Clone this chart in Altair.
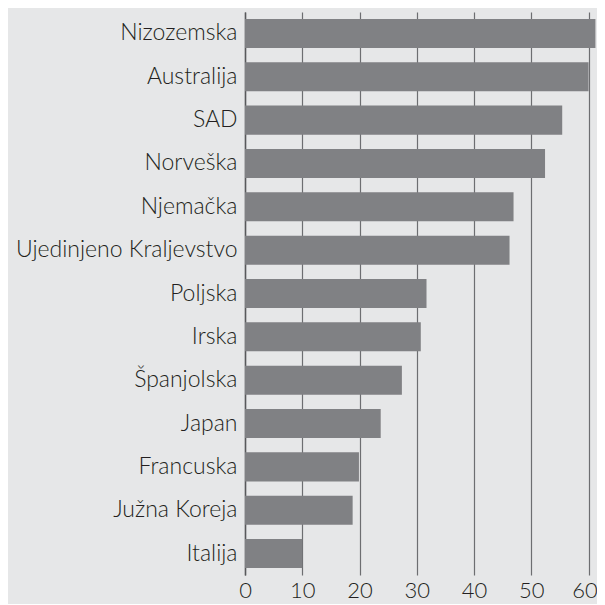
import altair as alt
import pandas as pd

countries = ["Nizozemska", "Australija", "SAD", "Norveška", "Njemačka",
             "Ujedinjeno Kraljevstvo", "Poljska", "Irska", "Španjolska",
             "Japan", "Francuska", "Južna Koreja", "Italija"]
values = [61.2, 60.0, 55.4, 52.4, 46.9, 46.2, 31.7, 30.7, 27.4, 23.7, 19.9, 18.8, 10.0]
ticks = [0, 10, 20, 30, 40, 50, 60]

df = pd.DataFrame({"country": countries, "value": values})

FONT = "Lato"

chart = alt.Chart(df).mark_bar(color="#808184").encode(
    x=alt.X("value:Q",
            scale=alt.Scale(domain=[0, 61.3], nice=False, zero=True),
            axis=alt.Axis(values=ticks, title=None, grid=True, gridColor="#6d6e71",
                          gridWidth=1.2, domain=False, ticks=False,
                          labelFontSize=22, labelFont=FONT, labelFontWeight=300,
                          labelColor="#231f20", labelPadding=5, labelFlush=False,
                          labelOffset={"condition": {"test": "datum.value == 60", "value": -4},
                                       "value": 0})),
    y=alt.Y("country:N", sort=countries,
            scale=alt.Scale(paddingInner=0.33, paddingOuter=0.16),
            axis=alt.Axis(title=None, domain=True, domainColor="#58595b", domainWidth=1.5,
                          ticks=False, labelFontSize=23, labelFont=FONT, labelFontWeight=300,
                          labelColor="#231f20", labelPadding=8, labelLimit=400)),
).properties(
    width=351, height=563,
    background="#e6e7e8",
    autosize=alt.AutoSizeParams(type="none"),
    padding={"left": 237, "top": 4, "right": 1, "bottom": 29},
).configure_view(stroke=None)

chart.save("out.html", embed_options={"renderer": "svg", "actions": False})
